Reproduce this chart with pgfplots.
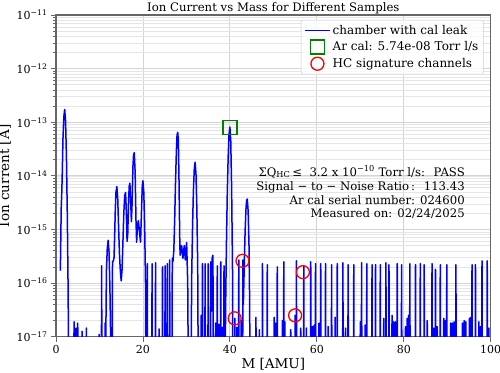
\documentclass[border=0pt]{standalone}
\usepackage{pgfplots}
\pgfplotsset{compat=1.18}
\usepackage{fontspec}
\setmainfont{DejaVu Serif}
\newcommand{\fs}[1]{\fontsize{#1}{#1}\selectfont}
\pgfplotsset{
  lineleg/.style={legend image code/.code={\draw[##1, line width=1.5pt] (0pt,0pt) -- (25pt,0pt);}},
  markleg/.style={legend image code/.code={\draw[mark repeat=2,mark phase=2,##1] plot coordinates {(0pt,0pt) (12.5pt,0pt) (25pt,0pt)};}},
}
\begin{document}
\begin{tikzpicture}
\useasboundingbox (-56pt,-35.3pt) rectangle (444pt,336.7pt);
\begin{axis}[
  scale only axis,
  width=434.7pt, height=321.7pt,
  at={(0,0)}, anchor=south west,
  ymode=log,
  xmin=0, xmax=100, ymin=1e-17, ymax=1e-11,
  xtick={0,20,40,60,80,100},
  /pgf/number format/assume math mode=true,
  yticklabel={\pgfmathtruncatemacro\e{round(-\tick/2.302585093)}10\textsuperscript{−\e}},
  tick label style={font=\fs{11}},
  tick pos=left, tick align=outside,
  major tick length=5pt, minor tick length=3pt,
  every tick/.style={black!60, line width=0.8pt},
  axis line style={black!60, line width=1.3pt},
  xmajorgrids, ymajorgrids, yminorgrids,
  major grid style={black!17, line width=0.8pt},
  minor grid style={black!10, line width=0.6pt},
  title={Ion Current vs Mass for Different Samples},
  every axis title/.style={font=\fs{11.7}, at={(0.5,1)}, anchor=base, yshift=4pt},
  xlabel={M [AMU]},
  every axis x label/.style={font=\fs{13.5}, at={(0.5,0)}, anchor=base, yshift=-32pt},
  ylabel={Ion current [A]},
  every axis y label/.style={at={(axis description cs:-0.108,0.5)}, rotate=90, anchor=base, font=\fs{13.5}},
  legend style={at={(0.9835,0.9845)}, anchor=north east, draw=black!20, rounded corners=2pt,
    fill=white, fill opacity=0.8, text opacity=1, font=\fs{12}, row sep=2pt,
    inner xsep=3pt, inner ysep=3pt},
  legend cell align=left,
]
\addplot[blue, line width=1.5pt, line join=round, lineleg]
 table[row sep=\\] {x y\\
1.0 1.7e-16\\ 1.2 2.5e-15\\ 1.35 5.5e-15\\ 1.45 1.2e-14\\ 1.6 4.8e-14\\ 1.8 1.26e-13\\ 2.0 1.73e-13\\ 2.2 1.05e-13\\ 2.4 2.3e-14\\ 2.6 1.9e-15\\ 2.8 6e-17\\ 3.0 1e-19\\
4.05 1e-19\\ 4.15 1.9e-17\\ 4.25 1e-19\\ 4.5 1e-19\\ 4.6 1.45e-17\\ 4.7 1e-19\\ 4.9 1e-19\\ 5.0 1.8e-17\\ 5.1 1e-19\\ 5.9 1e-19\\ 6.0 1.26e-17\\ 6.1 1e-19\\ 6.9 1e-19\\ 7.0 1.45e-17\\ 7.1 1e-19\\
9.8 1e-19\\ 9.9 1.1e-17\\ 10.0 1e-19\\ 10.4 1e-19\\ 10.5 2.1e-16\\ 10.6 1e-19\\ 11.2 1e-19\\ 11.3 1.8e-17\\ 11.4 3e-18\\
11.6 1.7e-16\\ 11.8 4.5e-16\\ 12.0 6.3e-16\\ 12.2 3.8e-16\\ 12.4 8.5e-17\\ 12.6 7e-18\\ 12.75 1e-19\\ 12.9 1e-19\\
13.0 2.5e-16\\ 13.2 2.6e-16\\ 13.35 3e-16\\ 13.5 8e-16\\ 13.65 2.5e-15\\ 13.8 5e-15\\ 14.0 6.3e-15\\ 14.2 3.8e-15\\ 14.4 1.1e-15\\ 14.6 3.5e-16\\ 14.8 1.7e-16\\ 15.0 1.1e-16\\ 15.2 1.8e-16\\
15.4 6e-16\\ 15.6 2e-15\\ 15.8 4.3e-15\\ 16.0 4.9e-15\\ 16.15 2.5e-15\\ 16.35 6e-16\\ 16.5 8e-16\\ 16.7 3.5e-15\\ 16.85 6.5e-15\\ 17.0 7.3e-15\\ 17.2 3e-15\\ 17.35 1.4e-15\\
17.5 3e-15\\ 17.7 1.5e-14\\ 17.85 2.5e-14\\ 18.0 2.7e-14\\ 18.2 1.2e-14\\ 18.4 1.5e-15\\ 18.55 5.8e-16\\ 18.75 1.2e-15\\ 18.95 1.45e-15\\ 19.15 1e-15\\ 19.45 5.8e-16\\
19.65 2e-15\\ 19.85 6.5e-15\\ 20.0 8.1e-15\\ 20.2 4.9e-15\\ 20.4 1.1e-15\\ 20.6 9e-17\\ 20.75 1e-19\\
20.9 1e-19\\ 21.0 2.3e-16\\ 21.1 1e-19\\ 22.0 1e-19\\ 22.1 2.3e-16\\ 22.2 1e-19\\ 22.8 1e-19\\ 22.9 2.4e-16\\ 23.0 1e-19\\ 23.6 1e-19\\ 23.7 1.4e-17\\ 23.8 1e-19\\
24.4 1e-19\\ 24.5 2e-16\\ 24.6 1e-19\\ 25.0 1e-19\\ 25.1 2.1e-16\\ 25.2 1e-19\\ 25.5 1e-19\\ 25.6 2.3e-16\\ 25.7 1e-19\\ 26.05 1e-19\\ 26.15 2.7e-16\\ 26.25 1e-19\\
26.65 1e-19\\ 26.75 2.9e-16\\ 26.9 2.5e-16\\ 27.1 4e-16\\ 27.3 1.5e-15\\ 27.5 8e-15\\ 27.7 3e-14\\ 27.85 5.8e-14\\ 28.0 6.5e-14\\ 28.15 4.5e-14\\ 28.3 8e-15\\ 28.45 8e-16\\
28.55 3.3e-16\\ 28.9 5e-16\\ 29.2 2.9e-16\\ 29.5 5e-16\\ 29.75 2.7e-16\\ 30.05 5.7e-16\\ 30.3 1e-16\\ 30.55 1e-19\\
31.0 1e-19\\ 31.2 1.1e-16\\ 31.4 1e-15\\ 31.6 5e-15\\ 31.8 1.3e-14\\ 32.0 1.8e-14\\ 32.2 1.1e-14\\ 32.4 2.5e-15\\ 32.6 2e-16\\ 32.8 1e-19\\
33.3 1e-19\\ 33.4 2.5e-17\\ 33.5 1e-19\\ 33.6 1e-19\\ 33.7 2.3e-16\\ 33.8 1e-19\\ 34.2 1e-19\\ 34.3 2.3e-16\\ 34.4 1e-19\\ 34.9 1e-19\\ 35.0 2.3e-16\\ 35.1 1e-19\\
35.5 1e-19\\ 35.6 2.5e-16\\ 35.75 3e-17\\ 35.9 2.9e-16\\ 36.1 3.3e-16\\ 36.25 1e-19\\ 36.6 1e-19\\ 36.7 1.8e-17\\ 36.8 1e-19\\
37.0 1e-19\\ 37.1 2.1e-16\\ 37.2 1e-19\\ 37.4 1e-19\\ 37.5 1.7e-17\\ 37.6 1e-19\\ 37.8 1e-19\\ 37.9 2.5e-16\\ 38.0 1e-19\\ 38.2 1e-19\\ 38.3 1.5e-17\\ 38.4 1e-19\\
38.55 1e-19\\ 38.65 2.1e-16\\ 38.75 1e-19\\ 38.9 1e-19\\ 39.0 2.7e-17\\ 39.2 4.9e-16\\ 39.4 4.6e-15\\ 39.6 2.2e-14\\ 39.8 5.9e-14\\ 40.0 8.1e-14\\ 40.2 4.5e-14\\ 40.4 6e-15\\ 40.6 2e-16\\ 40.75 1e-19\\
41.05 1e-19\\ 41.15 2.2e-17\\ 41.25 1e-19\\ 41.5 1e-19\\ 41.6 1.5e-17\\ 41.7 1e-19\\ 41.95 1e-19\\ 42.05 2.7e-16\\ 42.15 1e-19\\ 42.5 1e-19\\ 42.6 2e-17\\ 42.7 1e-19\\
42.9 1e-19\\ 43.0 2.7e-16\\ 43.1 4e-17\\ 43.3 2e-16\\ 43.5 9e-16\\ 43.7 2.4e-15\\ 43.85 3.5e-15\\ 44.0 3.7e-15\\ 44.2 2.2e-15\\ 44.4 5e-16\\ 44.55 4e-17\\ 44.7 1e-19\\
45.9 1e-19\\ 46.0 2.3e-17\\ 46.1 1e-19\\ 46.7 1e-19\\ 46.8 1.35e-17\\ 46.9 1e-19\\ 47.4 1e-19\\ 47.5 2.3e-16\\ 47.6 1e-19\\ 48.5 1e-19\\ 48.6 2.2e-16\\ 48.7 1e-19\\
50.1 1e-19\\ 50.2 2.3e-17\\ 50.3 1e-19\\ 50.5 1e-19\\ 50.6 1.8e-17\\ 50.7 1e-19\\ 50.8 1e-19\\ 50.9 2.0e-16\\ 51.0 1e-19\\
52.0 1e-19\\ 52.1 2e-17\\ 52.2 1e-19\\ 52.3 1e-19\\ 52.4 2.5e-16\\ 52.5 1e-19\\ 52.55 1e-19\\ 52.65 1.9e-17\\ 52.75 1e-19\\
53.9 1e-19\\ 54.0 1.35e-17\\ 54.1 1e-19\\ 54.9 1e-19\\ 55.0 2.5e-17\\ 55.1 1e-19\\ 55.2 1e-19\\ 55.3 2.6e-16\\ 55.4 1e-19\\
56.2 1e-19\\ 56.3 1.45e-17\\ 56.4 1e-19\\ 56.9 1e-19\\ 57.0 2.1e-16\\ 57.1 1e-19\\ 57.5 1e-19\\ 57.6 1.45e-17\\ 57.7 1e-19\\
58.5 1e-19\\ 58.6 2.5e-16\\ 58.7 1e-19\\ 58.9 1e-19\\ 59.0 1.55e-17\\ 59.1 1e-19\\ 59.3 1e-19\\ 59.4 1.65e-17\\ 59.5 1e-19\\ 59.6 1e-19\\ 59.7 2.3e-16\\ 59.8 1e-19\\
60.4 1e-19\\ 60.5 1.8e-17\\ 60.6 1e-19\\ 60.8 1e-19\\ 60.9 2.3e-16\\ 61.0 1e-19\\ 61.9 1e-19\\ 62.0 2.3e-16\\ 62.1 1e-19\\ 62.5 1e-19\\ 62.6 1.55e-17\\ 62.7 1e-19\\
63.3 1e-19\\ 63.4 2.2e-16\\ 63.5 1e-19\\ 64.1 1e-19\\ 64.2 2.3e-17\\ 64.3 1e-19\\ 64.6 1e-19\\ 64.7 2.3e-16\\ 64.8 1e-19\\
65.9 1e-19\\ 66.0 2.4e-16\\ 66.1 1e-19\\ 66.5 1e-19\\ 66.6 1.45e-17\\ 66.7 1e-19\\ 67.1 1e-19\\ 67.2 2.2e-16\\ 67.3 1e-19\\ 68.4 1e-19\\ 68.5 2.2e-16\\ 68.6 1e-19\\
69.9 1e-19\\ 70.0 1.9e-17\\ 70.1 1e-19\\ 70.2 1e-19\\ 70.3 2.4e-16\\ 70.4 1e-19\\ 71.0 1e-19\\ 71.1 1.65e-17\\ 71.2 1e-19\\ 71.4 1e-19\\ 71.5 2.3e-16\\ 71.6 1e-19\\
72.6 1e-19\\ 72.7 2.2e-16\\ 72.8 1e-19\\ 73.4 1e-19\\ 73.5 2.2e-16\\ 73.6 1e-19\\ 74.5 1e-19\\ 74.6 2.2e-16\\ 74.7 1e-19\\
75.3 1e-19\\ 75.4 2.2e-17\\ 75.5 1e-19\\ 75.8 1e-19\\ 75.9 2.4e-16\\ 76.0 1e-19\\ 76.5 1e-19\\ 76.6 2.2e-16\\ 76.7 1e-19\\
77.2 1e-19\\ 77.3 2.5e-17\\ 77.4 1e-19\\ 77.6 1e-19\\ 77.7 1.9e-17\\ 77.8 1e-19\\ 78.0 1e-19\\ 78.1 1.9e-17\\ 78.2 1e-19\\ 78.4 1e-19\\ 78.5 2.3e-16\\ 78.6 1e-19\\
79.4 1e-19\\ 79.5 2.2e-16\\ 79.6 1e-19\\ 80.3 1e-19\\ 80.4 1.55e-17\\ 80.5 1e-19\\ 80.7 1e-19\\ 80.8 2.2e-17\\ 80.9 1e-19\\ 81.0 1e-19\\ 81.1 2.5e-17\\ 81.2 1e-19\\
81.3 1e-19\\ 81.4 2.3e-16\\ 81.5 1e-19\\ 82.6 1e-19\\ 82.7 2.2e-16\\ 82.8 1e-19\\ 83.7 1e-19\\ 83.8 2.3e-16\\ 83.9 1e-19\\ 84.6 1e-19\\ 84.7 2.2e-16\\ 84.8 1e-19\\
85.3 1e-19\\ 85.4 2e-17\\ 85.5 1e-19\\ 86.4 1e-19\\ 86.5 2.3e-16\\ 86.6 1e-19\\ 86.8 1e-19\\ 86.9 1.45e-17\\ 87.0 1e-19\\ 87.2 1e-19\\ 87.3 1.8e-16\\ 87.4 1e-19\\
87.6 1e-19\\ 87.7 1.55e-17\\ 87.8 1e-19\\ 88.3 1e-19\\ 88.4 2.2e-16\\ 88.5 1e-19\\ 89.1 1e-19\\ 89.2 2.2e-17\\ 89.3 1e-19\\ 89.5 1e-19\\ 89.6 2e-17\\ 89.7 1e-19\\
89.8 1e-19\\ 89.9 2.2e-16\\ 90.0 1e-19\\ 90.7 1e-19\\ 90.8 1.8e-17\\ 90.9 1e-19\\ 91.1 1e-19\\ 91.2 1.8e-17\\ 91.3 1e-19\\ 91.5 1e-19\\ 91.6 1.9e-17\\ 91.7 1e-19\\
91.9 1e-19\\ 92.0 2.2e-16\\ 92.1 1e-19\\ 93.4 1e-19\\ 93.5 1.8e-17\\ 93.6 1e-19\\ 93.8 1e-19\\ 93.9 2e-17\\ 94.0 1e-19\\ 94.2 1e-19\\ 94.3 1.9e-17\\ 94.4 1e-19\\
95.0 1e-19\\ 95.1 2.2e-17\\ 95.2 1e-19\\ 95.3 1e-19\\ 95.4 2.3e-17\\ 95.5 1e-19\\ 95.6 1e-19\\ 95.7 2.2e-16\\ 95.8 1e-19\\ 96.4 1e-19\\ 96.5 2.2e-16\\ 96.6 1e-19\\
97.2 1e-19\\ 97.3 1.9e-17\\ 97.4 1e-19\\ 97.6 1e-19\\ 97.7 1.55e-17\\ 97.8 1e-19\\ 97.9 1e-19\\ 98.0 2.6e-16\\ 98.1 1e-19\\
99.1 1e-19\\ 99.2 2.6e-16\\ 99.3 1e-19\\ 99.5 1e-19\\ 99.6 1.45e-17\\ 99.7 1e-19\\ 100.0 1e-19\\
};
\addlegendentry{chamber with cal leak}
\addplot[only marks, mark=square, mark size=7pt, color=green!50!black, line width=1.3pt, markleg]
 coordinates {(40,8.1e-14)};
\addlegendentry{Ar cal: 5.74e-08 Torr l/s}
\addplot[only marks, mark=o, mark size=6.5pt, color=red, line width=1.3pt, markleg]
 coordinates {(41.1,2.2e-17) (42.9,2.6e-16) (55.0,2.5e-17) (56.8,1.6e-16)};
\addlegendentry{HC signature channels}
\node[anchor=base east, font=\fs{11.7}] at (rel axis cs:0.9485,0.4995) {ΣQ\textsubscript{HC}\,≤~ 3.2 x 10\textsuperscript{−10} Torr l/s:~ PASS};
\node[anchor=base east, font=\fs{11.7}] at (rel axis cs:0.9485,0.456) {Signal − to − Noise Ratio\,:~ 113.43};
\node[anchor=base east, font=\fs{11.7}] at (rel axis cs:0.9485,0.4125) {Ar cal serial number: 024600};
\node[anchor=base east, font=\fs{11.7}] at (rel axis cs:0.9485,0.3705) {Measured on: 02/24/2025};
\end{axis}
\end{tikzpicture}
\end{document}
